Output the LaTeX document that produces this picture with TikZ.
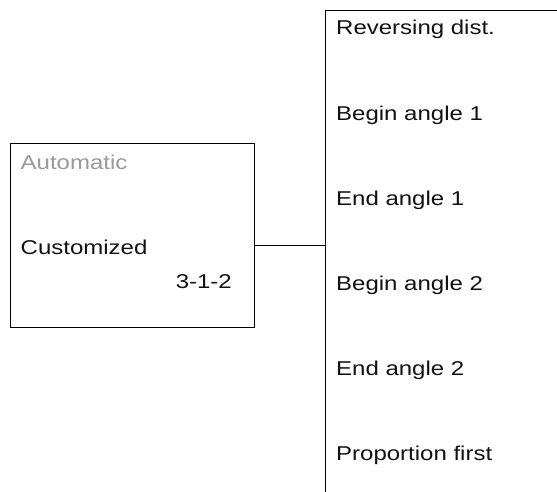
\documentclass[tikz,border=0pt]{standalone}
\usepackage{fontspec}
\setmainfont[FakeStretch=1.2]{Liberation Sans}
\definecolor{dimtext}{HTML}{999999}
\definecolor{inktext}{HTML}{111111}
\begin{document}
\begin{tikzpicture}[x=1pt,y=-1pt,
  boxline/.style={draw=black,line width=1pt,inner sep=0pt},
  lbl/.style={anchor=base west,inner sep=0pt,text=inktext,font=\fontsize{20}{24}\selectfont},
  dimlbl/.style={lbl,text=dimtext},
  wire/.style={draw=black,line width=1pt}]
\clip (0,0) rectangle (557,492);
\node[boxline,anchor=north west,minimum width=244.5pt,minimum height=184pt] (lbox) at (9.5,143) {};
\node[boxline,anchor=north west,minimum width=300pt,minimum height=520pt] (rbox) at (325,10) {};
\node[dimlbl] (auto) at (20.5,169.3) {Automatic};
\node[lbl] (cust) at (20.5,254) {Customized};
\node[lbl,anchor=base east] (code) at (232,288.3) {3-1-2};
\node[lbl] (r1) at (336,35) {Reversing dist.};
\node[lbl] (r2) at (336,120.1) {Begin angle 1};
\node[lbl] (r3) at (336,205.3) {End angle 1};
\node[lbl] (r4) at (336,290.4) {Begin angle 2};
\node[lbl] (r5) at (336,375.5) {End angle 2};
\node[lbl] (r6) at (336,460.7) {Proportion first};
\coordinate (c) at ([yshift=-10pt]lbox.east);
\draw[wire] (c) -- (c -| rbox.west);
\end{tikzpicture}
\end{document}
